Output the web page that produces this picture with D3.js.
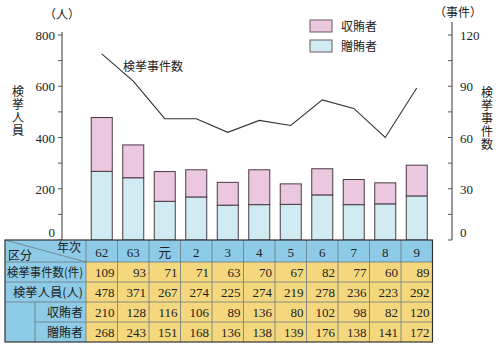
<!DOCTYPE html>
<html><head><meta charset="utf-8">
<script src="https://cdn.jsdelivr.net/npm/d3@7"></script>
<style>
body{margin:0;background:#fff;}
svg{display:block;}
text{font-family:"Liberation Serif","DejaVu Serif",serif;fill:#222;}
.jp{font-family:"Noto Sans CJK JP","Noto Sans CJK SC",sans-serif;}
.vert{writing-mode:vertical-rl;text-orientation:upright;}
</style></head>
<body>
<script>
// 年次
const years = ["62","63","元","2","3","4","5","6","7","8","9"];
// 検挙事件数(件)
const cases = [109,93,71,71,63,70,67,82,77,60,89];
// 検挙人員(人)
const totals = [478,371,267,274,225,274,219,278,236,223,292];
// 収賄者
const bribeTakers = [210,128,116,106,89,136,80,102,98,82,120];
// 贈賄者
const bribeGivers = [268,243,151,168,136,138,139,176,138,141,172];
const leftTicks = [0,200,400,600,800];
const rightTicks = [0,30,60,90,120];

const W = 498, H = 347;
const svg = d3.select("body").append("svg").attr("width",W).attr("height",H);

const colX = d3.scaleBand().domain(years).range([86,432.5]).paddingInner(0).paddingOuter(0);
const yL = d3.scaleLinear().domain([0,800]).range([240,35]);
const yR = d3.scaleLinear().domain([0,120]).range([240,35]);
const barW = 21;
const pink = "#ecc8e0", blue = "#d0ebf2", edge = "#4a3a44";

// stacked bars
const g = svg.append("g");
years.forEach((yr,i)=>{
  const cx = colX(yr) + colX.bandwidth()/2;
  g.append("rect").attr("x",cx-barW/2).attr("y",yL(bribeGivers[i]))
    .attr("width",barW).attr("height",yL(0)-yL(bribeGivers[i]))
    .attr("fill",blue).attr("stroke",edge).attr("stroke-width",1);
  g.append("rect").attr("x",cx-barW/2).attr("y",yL(bribeGivers[i]+bribeTakers[i]))
    .attr("width",barW).attr("height",yL(bribeGivers[i])-yL(bribeGivers[i]+bribeTakers[i]))
    .attr("fill",pink).attr("stroke",edge).attr("stroke-width",1);
});

// case-count line
const line = d3.line().x((d,i)=>colX(years[i])+colX.bandwidth()/2).y(d=>yR(d));
svg.append("path").datum(cases).attr("d",line).attr("fill","none")
  .attr("stroke","#333").attr("stroke-width",1.1);
svg.append("text").attr("class","jp").attr("x",123).attr("y",71)
  .attr("font-size",12).text("検挙事件数");

// left axis
const axL = svg.append("g").attr("transform","translate(62,0)");
axL.append("line").attr("x1",0).attr("x2",0).attr("y1",32).attr("y2",240).attr("stroke","#333");
d3.range(0,801,100).forEach(v=>{
  axL.append("line").attr("x1",-4).attr("x2",0).attr("y1",yL(v)).attr("y2",yL(v)).attr("stroke","#555");
});
leftTicks.forEach(v=>{
  axL.append("text").attr("x",-7).attr("y",v===0?yL(v)-3:yL(v)+5).attr("text-anchor","end")
    .attr("font-size",13).text(v);
});
svg.append("text").attr("class","jp").attr("x",62).attr("y",19).attr("text-anchor","middle")
  .attr("font-size",12).text("（人）");
svg.append("text").attr("class","jp vert").attr("x",18).attr("y",85)
  .attr("font-size",12).attr("letter-spacing",1).text("検挙人員");

// right axis
const axR = svg.append("g").attr("transform","translate(452,0)");
axR.append("line").attr("x1",0).attr("x2",0).attr("y1",22).attr("y2",240).attr("stroke","#333");
d3.range(0,121,15).forEach(v=>{
  axR.append("line").attr("x1",-4).attr("x2",0).attr("y1",yR(v)).attr("y2",yR(v)).attr("stroke","#555");
});
rightTicks.forEach(v=>{
  axR.append("text").attr("x",8).attr("y",v===0?yR(v)-3:yR(v)+5).attr("text-anchor","start")
    .attr("font-size",13).text(v);
});
svg.append("text").attr("class","jp").attr("x",458).attr("y",17).attr("text-anchor","middle")
  .attr("font-size",12).text("（事件）");
svg.append("text").attr("class","jp vert").attr("x",487).attr("y",86)
  .attr("font-size",12).attr("letter-spacing",1).text("検挙事件数");

// legend
const legend = [["収賄者",pink,20],["贈賄者",blue,40]];
legend.forEach(([t,c,y])=>{
  svg.append("rect").attr("x",310).attr("y",y).attr("width",22).attr("height",12)
    .attr("fill",c).attr("stroke","#6a5a64");
  svg.append("text").attr("class","jp").attr("x",341).attr("y",y+11).attr("font-size",12).text(t);
});

// data table
const tblBlue = "#8dcbe6", tblYellow = "#f5d77e", grid = "#6a7a80";
const tx0 = 5, tx1 = 86, tEnd = colX.range()[1];
const rowsY = [240,262,282,302,322,342];
const t = svg.append("g");
// backgrounds
t.append("rect").attr("x",tx0).attr("y",rowsY[0]).attr("width",tEnd-tx0).attr("height",rowsY[5]-rowsY[0]).attr("fill",tblBlue);
t.append("rect").attr("x",tx1).attr("y",rowsY[1]).attr("width",tEnd-tx1).attr("height",rowsY[5]-rowsY[1]).attr("fill",tblYellow);
// horizontal grid
[1,2,3].forEach(r=>{
  t.append("line").attr("x1",tx0).attr("x2",tEnd).attr("y1",rowsY[r]).attr("y2",rowsY[r]).attr("stroke",grid).attr("stroke-width",0.8);
});
t.append("line").attr("x1",35).attr("x2",tEnd).attr("y1",rowsY[4]).attr("y2",rowsY[4]).attr("stroke",grid).attr("stroke-width",0.8);
// vertical grid
years.forEach(yr=>{
  t.append("line").attr("x1",colX(yr)).attr("x2",colX(yr)).attr("y1",rowsY[0]).attr("y2",rowsY[5]).attr("stroke",grid).attr("stroke-width",0.8);
});
t.append("line").attr("x1",35).attr("x2",35).attr("y1",rowsY[3]).attr("y2",rowsY[5]).attr("stroke",grid).attr("stroke-width",0.8);
// header diagonal
t.append("line").attr("x1",tx0).attr("y1",rowsY[0]).attr("x2",tx1).attr("y2",rowsY[1]).attr("stroke",grid).attr("stroke-width",0.8);
t.append("text").attr("class","jp").attr("x",81).attr("y",252).attr("text-anchor","end").attr("font-size",12).text("年次");
t.append("text").attr("class","jp").attr("x",8).attr("y",260).attr("font-size",12).text("区分");
// outer frame
t.append("rect").attr("x",tx0).attr("y",rowsY[0]).attr("width",tEnd-tx0).attr("height",rowsY[5]-rowsY[0])
  .attr("fill","none").attr("stroke","#333").attr("stroke-width",1.2);

// header years
years.forEach(yr=>{
  t.append("text").attr("class",yr==="元"?"jp":null).attr("x",colX(yr)+colX.bandwidth()/2).attr("y",257)
    .attr("text-anchor","middle").attr("font-size",13).text(yr);
});
// row labels and values
const rows = [
  ["検挙事件数(件)",cases],
  ["検挙人員(人)",totals],
  ["収賄者",bribeTakers],
  ["贈賄者",bribeGivers]
];
rows.forEach(([label,vals],r)=>{
  const yb = rowsY[r+1]+15;
  const lab = t.append("text").attr("class","jp").attr("x",83).attr("y",yb).attr("text-anchor","end")
    .attr("font-size",12).text(label);
  if (r === 0) lab.attr("textLength",76).attr("lengthAdjust","spacingAndGlyphs");
  if (r === 1) lab.attr("textLength",70).attr("lengthAdjust","spacingAndGlyphs");
  vals.forEach((v,i)=>{
    t.append("text").attr("x",colX(years[i])+colX.bandwidth()-3).attr("y",yb)
      .attr("text-anchor","end").attr("font-size",13).text(v);
  });
});
</script>
</body></html>
